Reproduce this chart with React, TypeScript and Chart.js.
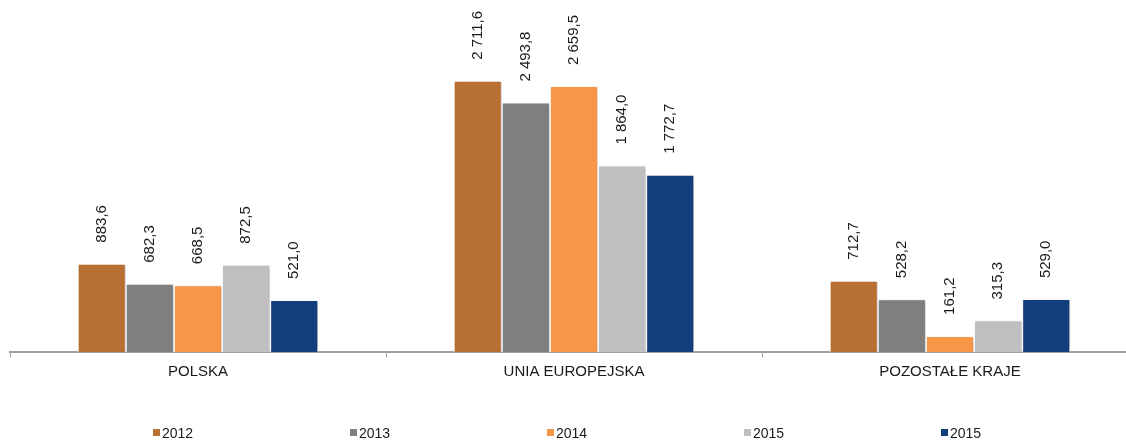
import React, { useEffect, useRef } from "react";
import { Chart, registerables } from "chart.js";

Chart.register(...registerables);

const categories = ["POLSKA", "UNIA EUROPEJSKA", "POZOSTAŁE KRAJE"];
const seriesLabels = ["2012", "2013", "2014", "2015", "2015"];
const values2012 = [883.6, 2711.6, 712.7];
const values2013 = [682.3, 2493.8, 528.2];
const values2014 = [668.5, 2659.5, 161.2];
const values2015a = [872.5, 1864.0, 315.3];
const values2015b = [521.0, 1772.7, 529.0];
const seriesColors = ["#B86F32", "#7F7F7F", "#F79646", "#BFBFBF", "#133E7C"];

const FONT = '"Liberation Sans", Arial, sans-serif';

function formatPL(v: number): string {
  const [intPart, dec] = v.toFixed(1).split(".");
  const withSpaces = intPart.replace(/\B(?=(\d{3})+(?!\d))/g, " ");
  return withSpaces + "," + dec;
}

const shadowPlugin = {
  id: "barShadow",
  beforeDatasetsDraw(chart: any) {
    const ctx = chart.ctx;
    ctx.save();
    ctx.shadowColor = "rgba(0,0,0,0.28)";
    ctx.shadowBlur = 3;
    ctx.shadowOffsetX = 1;
    ctx.shadowOffsetY = 1;
  },
  afterDatasetsDraw(chart: any) {
    chart.ctx.restore();
  },
};

const labelPlugin = {
  id: "valueLabels",
  afterDatasetsDraw(chart: any) {
    const ctx = chart.ctx;
    ctx.save();
    ctx.font = `15px ${FONT}`;
    ctx.fillStyle = "#1a1a1a";
    chart.data.datasets.forEach((ds: any, di: number) => {
      const meta = chart.getDatasetMeta(di);
      meta.data.forEach((el: any, i: number) => {
        const v = ds.data[i];
        ctx.save();
        ctx.translate(el.x, el.y - 21);
        ctx.rotate(-Math.PI / 2);
        ctx.textAlign = "left";
        ctx.textBaseline = "middle";
        ctx.fillText(formatPL(v), 0, 0);
        ctx.restore();
      });
    });
    ctx.restore();
  },
};

const legendPlugin = {
  id: "customLegend",
  afterDraw(chart: any) {
    const ctx = chart.ctx;
    const area = chart.chartArea;
    ctx.save();
    ctx.font = `14px ${FONT}`;
    ctx.textBaseline = "alphabetic";
    ctx.textAlign = "left";
    chart.data.datasets.forEach((ds: any, i: number) => {
      const x = area.left + 143 + i * 197;
      ctx.fillStyle = ds.backgroundColor;
      ctx.fillRect(x, 429, 7, 7);
      ctx.fillStyle = "#1a1a1a";
      ctx.fillText(ds.label, x + 9, 438);
    });
    ctx.restore();
  },
};

export default function App() {
  const canvasRef = useRef<HTMLCanvasElement | null>(null);

  useEffect(() => {
    const canvas = canvasRef.current;
    if (!canvas) return;
    const seriesValues = [values2012, values2013, values2014, values2015a, values2015b];
    const chart = new Chart(canvas, {
      type: "bar",
      data: {
        labels: categories,
        datasets: seriesValues.map((vals, i) => ({
          label: seriesLabels[i],
          data: vals,
          backgroundColor: seriesColors[i],
          borderColor: "#ffffff",
          borderWidth: 1,
          categoryPercentage: 0.64,
          barPercentage: 1,
        })),
      },
      options: {
        responsive: false,
        animation: false,
        devicePixelRatio: 1,
        layout: { padding: { left: 10, right: 10, top: 52, bottom: 0 } },
        plugins: {
          legend: { display: false },
          tooltip: { enabled: false },
        },
        scales: {
          x: {
            border: { display: true, color: "#A0A0A0", width: 2 },
            grid: {
              display: true,
              drawOnChartArea: false,
              drawTicks: true,
              tickLength: 5,
              color: "#A0A0A0",
              lineWidth: 1,
              offset: true,
            },
            ticks: {
              color: "#1a1a1a",
              font: { family: FONT, size: 15 },
              padding: 6,
              maxRotation: 0,
            },
            afterFit: (s: any) => {
              s.height = 89;
            },
          },
          y: {
            display: false,
            min: 0,
            max: 3000,
          },
        },
      },
      plugins: [shadowPlugin, labelPlugin, legendPlugin],
    });
    return () => chart.destroy();
  }, []);

  return (
    <div
      style={{
        position: "fixed",
        left: 0,
        top: 0,
        width: 1126,
        height: 441,
        overflow: "hidden",
        background: "#ffffff",
      }}
    >
      <canvas ref={canvasRef} width={1148} height={441} style={{ display: "block" }} />
    </div>
  );
}
